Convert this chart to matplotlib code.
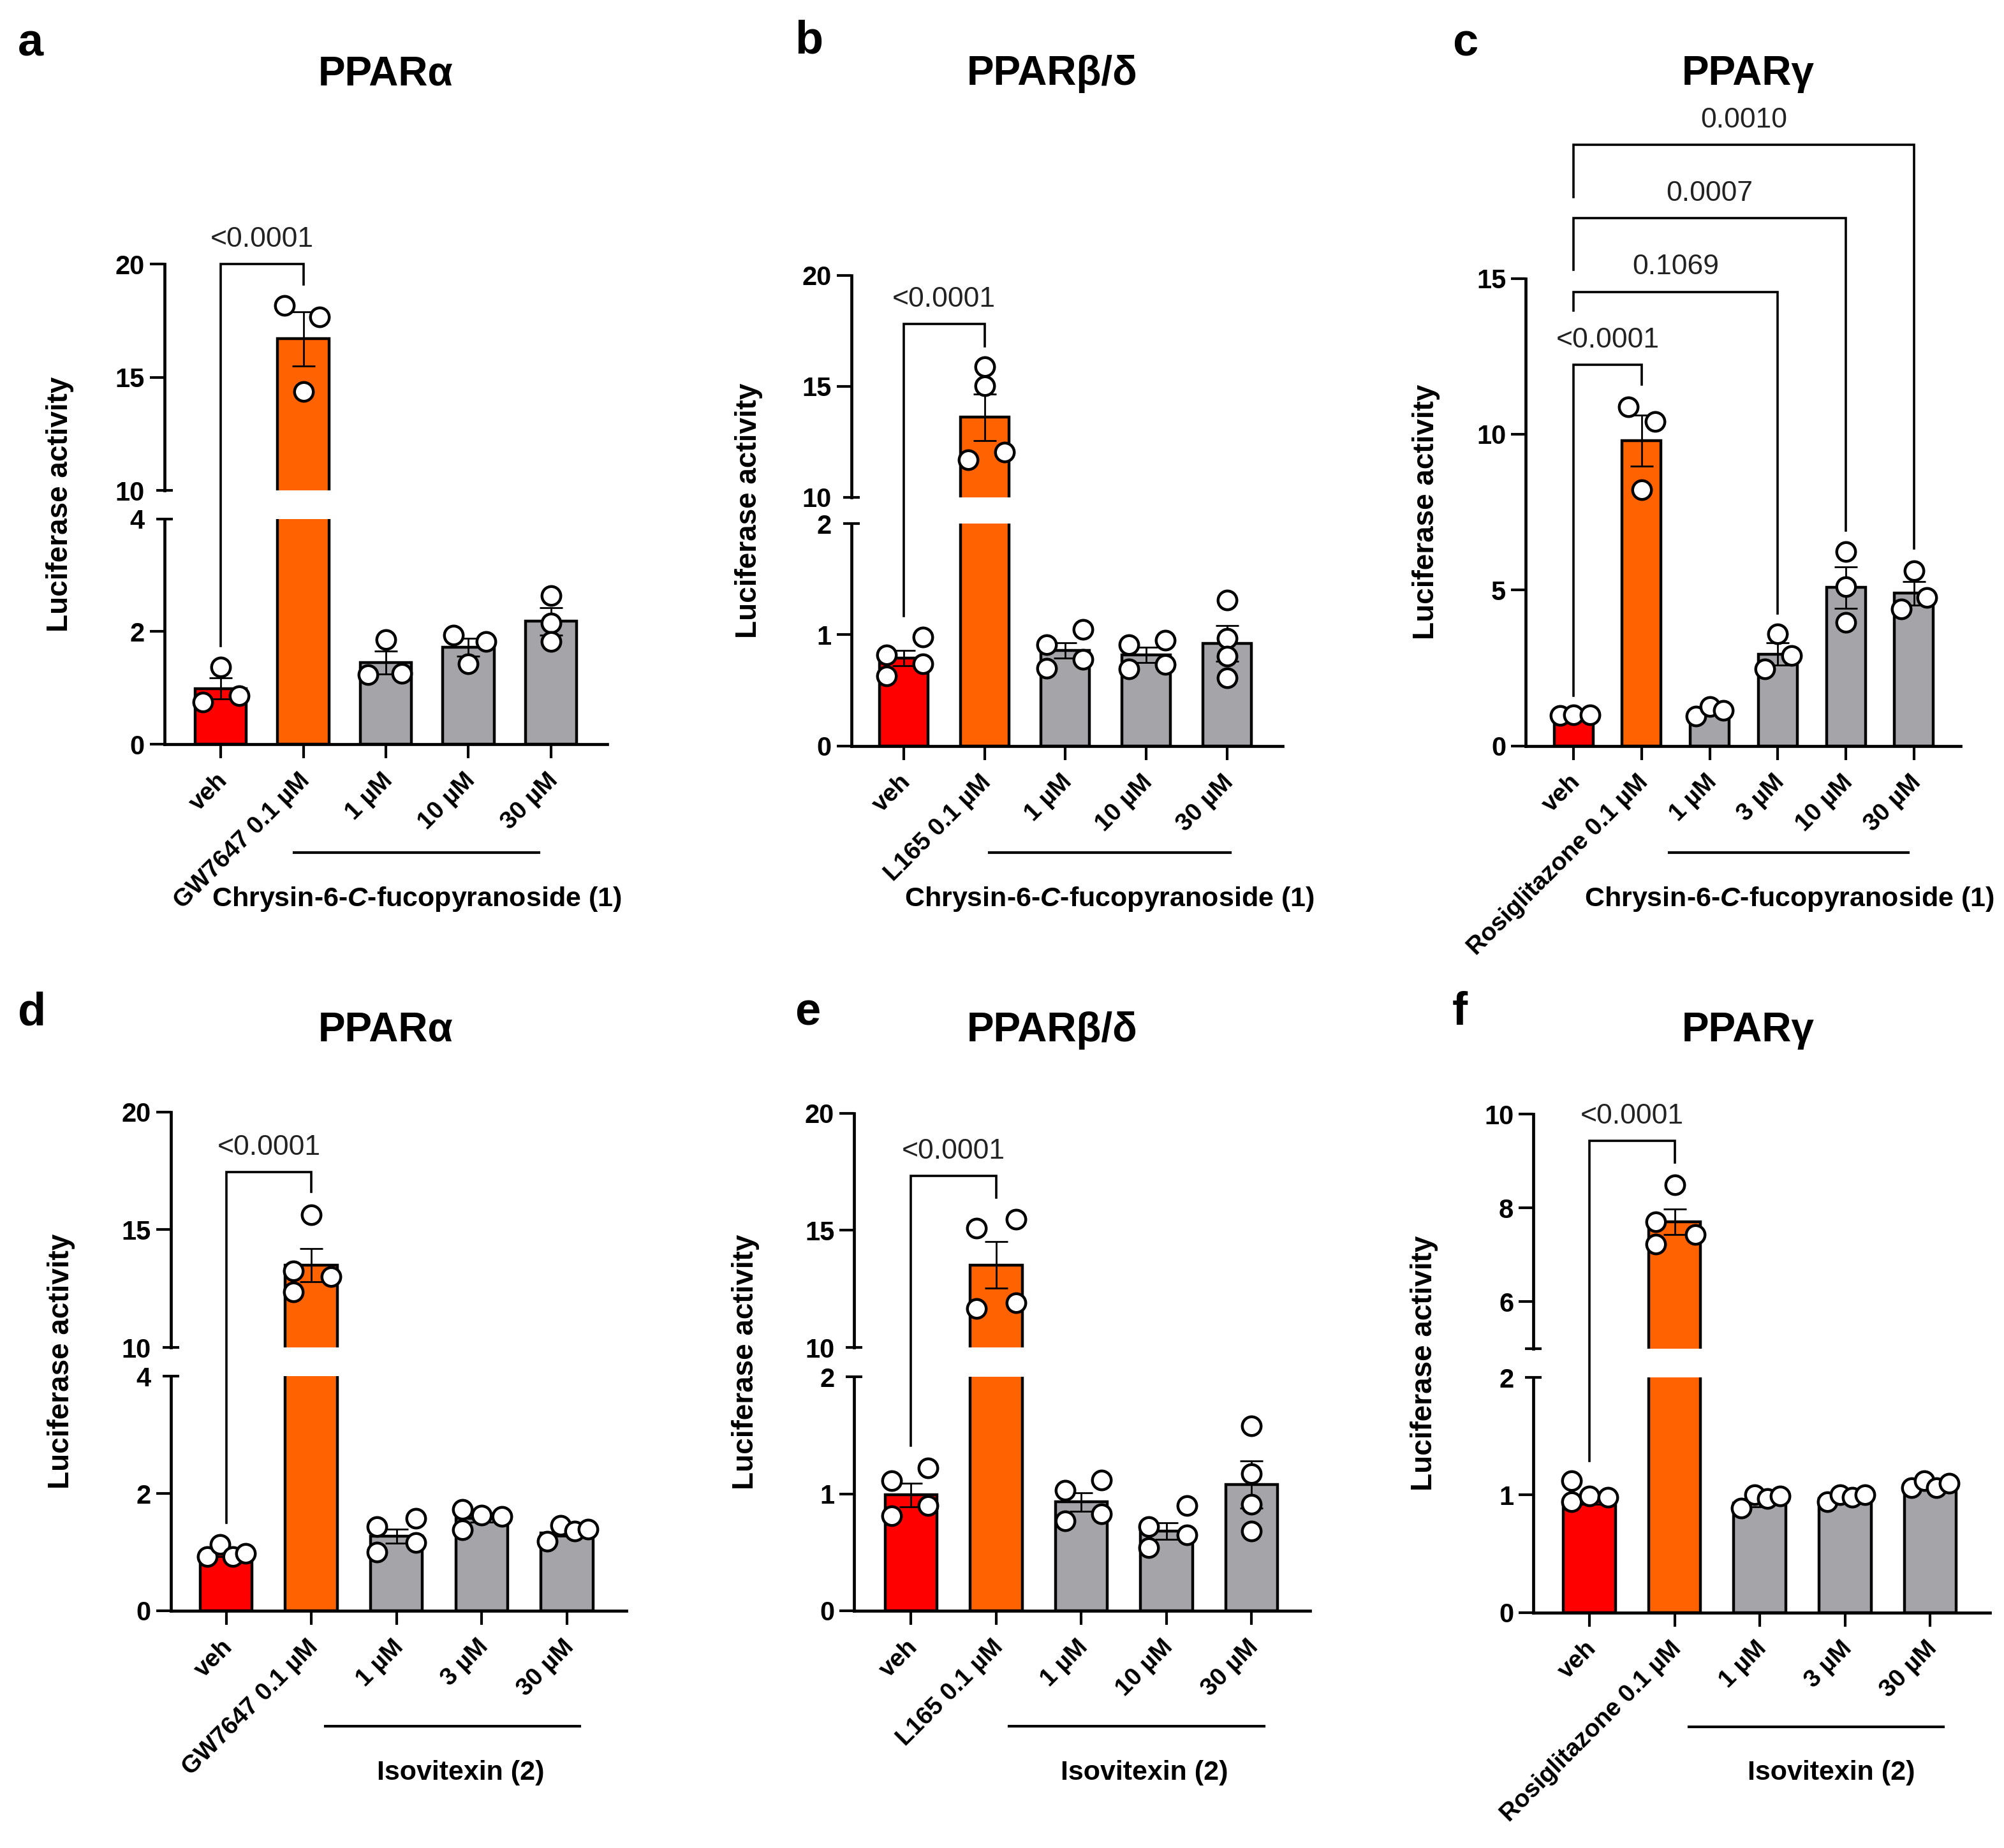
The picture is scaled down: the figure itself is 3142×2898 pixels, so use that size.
import numpy as np
import matplotlib
matplotlib.use('Agg')
import matplotlib.pyplot as plt
import matplotlib.transforms as mtransforms
from matplotlib.lines import Line2D

plt.rcParams['font.family'] = ['Liberation Sans', 'DejaVu Sans']
plt.rcParams['font.weight'] = 'bold'
plt.rcParams['mathtext.fontset'] = 'custom'
plt.rcParams['mathtext.rm'] = 'Liberation Sans:bold'
plt.rcParams['mathtext.it'] = 'Liberation Sans:italic:bold'
plt.rcParams['mathtext.bf'] = 'Liberation Sans:bold'

W, H, DPI = 3142, 2898, 200
RED, ORANGE, GRAY = '#FF0000', '#FF6200', '#A4A4A9'

# ---------------- data ----------------
a_labels = ['veh', 'GW7647 0.1 µM', '1 µM', '10 µM', '30 µM']
a_means = [0.99, 16.7, 1.45, 1.72, 2.18]
a_sem = [0.19, 1.2, 0.2, 0.16, 0.24]
a_points = [[0.75, 0.86, 1.37], [18.18, 17.66, 14.38], [1.86, 1.23, 1.26],
            [1.94, 1.43, 1.82], [2.64, 2.15, 1.82]]
a_jitter = [[-0.22, 0.22, 0], [-0.23, 0.2, 0], [0, -0.22, 0.19], [-0.18, 0, 0.21], [0, 0, 0]]
a_brackets = [(0, 1, 20.0, 1.74, 19.1, '<0.0001')]

b_labels = ['veh', 'L165 0.1 µM', '1 µM', '10 µM', '30 µM']
b_means = [0.79, 13.6, 0.86, 0.82, 0.92]
b_sem = [0.07, 1.05, 0.07, 0.07, 0.16]
b_points = [[0.82, 0.63, 0.98, 0.74], [15.88, 15.03, 11.68, 12.02], [0.91, 0.70, 1.05, 0.78],
            [0.91, 0.69, 0.95, 0.73], [1.31, 0.97, 0.81, 0.61]]
b_jitter = [[-0.21, -0.21, 0.24, 0.24], [0, 0, -0.2, 0.25], [-0.23, -0.23, 0.22, 0.22],
            [-0.21, -0.21, 0.24, 0.24], [0, 0, 0, 0]]
b_brackets = [(0, 1, 17.8, 1.17, 16.8, '<0.0001')]

c_labels = ['veh', 'Rosiglitazone 0.1 µM', '1 µM', '3 µM', '10 µM', '30 µM']
c_means = [0.99, 9.8, 1.12, 2.95, 5.08, 4.9]
c_sem = [0.03, 0.82, 0.08, 0.35, 0.66, 0.38]
c_points = [[0.97, 1.0, 0.99], [10.87, 10.4, 8.22], [0.95, 1.27, 1.13],
            [3.59, 2.46, 2.89], [6.24, 5.1, 3.97], [5.61, 4.39, 4.76]]
c_jitter = [[-0.2, 0, 0.24], [-0.2, 0.2, 0], [-0.2, 0, 0.2], [0, -0.19, 0.2], [0, 0, 0], [0, -0.19, 0.19]]
c_brackets = [(0, 1, 12.23, 1.61, 11.6, '<0.0001'),
              (0, 3, 14.57, 13.96, 4.25, '0.1069'),
              (0, 4, 16.93, 15.27, 6.9, '0.0007'),
              (0, 5, 19.29, 17.6, 6.34, '0.0010')]

d_labels = ['veh', 'GW7647 0.1 µM', '1 µM', '3 µM', '30 µM']
d_means = [0.97, 13.5, 1.27, 1.58, 1.33]
d_sem = [0.05, 0.7, 0.12, 0.07, 0.06]
d_points = [[0.92, 1.13, 0.92, 0.98], [15.63, 13.25, 13.0, 12.35], [1.43, 1.58, 1.16, 1.0],
            [1.73, 1.38, 1.63, 1.61], [1.18, 1.46, 1.36, 1.39]]
d_jitter = [[-0.22, -0.07, 0.08, 0.23], [0, -0.21, 0.23, -0.21], [-0.23, 0.23, 0.23, -0.23],
            [-0.23, -0.23, 0, 0.24], [-0.23, -0.07, 0.09, 0.25]]
d_brackets = [(0, 1, 17.45, 1.5, 16.6, '<0.0001')]

e_labels = ['veh', 'L165 0.1 µM', '1 µM', '10 µM', '30 µM']
e_means = [0.99, 13.52, 0.93, 0.68, 1.08]
e_sem = [0.1, 1.0, 0.08, 0.07, 0.2]
e_points = [[1.11, 0.81, 1.22, 0.90], [15.1, 11.66, 15.48, 11.91], [1.03, 0.77, 1.12, 0.83],
            [0.72, 0.54, 0.90, 0.65], [1.58, 1.17, 0.91, 0.68]]
e_jitter = [[-0.23, -0.23, 0.2, 0.2], [-0.23, -0.23, 0.23, 0.23], [-0.19, -0.19, 0.24, 0.24],
            [-0.21, -0.21, 0.24, 0.24], [0, 0, 0, 0]]
e_brackets = [(0, 1, 17.33, 1.41, 16.4, '<0.0001')]

f_labels = ['veh', 'Rosiglitazone 0.1 µM', '1 µM', '3 µM', '30 µM']
f_means = [0.96, 7.71, 0.93, 0.97, 1.07]
f_sem = [0.04, 0.27, 0.03, 0.01, 0.02]
f_points = [[1.12, 0.94, 0.99, 0.98], [8.5, 7.71, 7.43, 7.23], [0.89, 1.0, 0.97, 0.99],
            [0.94, 1.0, 0.98, 1.0], [1.06, 1.12, 1.06, 1.10]]
f_jitter = [[-0.21, -0.21, 0, 0.22], [0, -0.22, 0.24, -0.22], [-0.22, -0.06, 0.09, 0.24],
            [-0.21, -0.06, 0.08, 0.23], [-0.22, -0.07, 0.07, 0.22]]
f_brackets = [(0, 1, 9.43, 1.29, 8.97, '<0.0001')]

group1 = 'Chrysin-6-$\\mathit{C}$-fucopyranoside (1)'
group2 = 'Isovitexin (2)'

panels = [
    dict(letter='a', title='PPARα', labels=a_labels, means=a_means, sem=a_sem, pts=a_points,
         jit=a_jitter, br=a_brackets, group=group1,
         low=(0, 4), low_ticks=[0, 2], up=(10, 20), up_ticks=[15, 20], brk=(['4'], ['10'])),
    dict(letter='b', title='PPARβ/δ', labels=b_labels, means=b_means, sem=b_sem, pts=b_points,
         jit=b_jitter, br=b_brackets, group=group1,
         low=(0, 2), low_ticks=[0, 1], up=(10, 20), up_ticks=[15, 20], brk=(['2'], ['10'])),
    dict(letter='c', title='PPARγ', labels=c_labels, means=c_means, sem=c_sem, pts=c_points,
         jit=c_jitter, br=c_brackets, group=group1,
         low=(0, 15), low_ticks=[0, 5, 10, 15], up=None),
    dict(letter='d', title='PPARα', labels=d_labels, means=d_means, sem=d_sem, pts=d_points,
         jit=d_jitter, br=d_brackets, group=group2,
         low=(0, 4), low_ticks=[0, 2], up=(10, 20), up_ticks=[15, 20], brk=(['4'], ['10'])),
    dict(letter='e', title='PPARβ/δ', labels=e_labels, means=e_means, sem=e_sem, pts=e_points,
         jit=e_jitter, br=e_brackets, group=group2,
         low=(0, 2), low_ticks=[0, 1], up=(10, 20), up_ticks=[15, 20], brk=(['2'], ['10'])),
    dict(letter='f', title='PPARγ', labels=f_labels, means=f_means, sem=f_sem, pts=f_points,
         jit=f_jitter, br=f_brackets, group=group2,
         low=(0, 2), low_ticks=[0, 1], up=(5, 10), up_ticks=[6, 8, 10], brk=(['2'], [''])),
]

# layout in pixels of the final image (x from left, y from top)
layout = {
    'a': dict(x=(257.8, 952.2), xlim=(-0.683, 4.683), bw=0.62, lo=(1167, 813.7), up=(769.3, 414.3),
              letter=(48, 69), title=(605, 116), ylab=93.7, line=(460.7, 845, 1337), gtxt=(653, 1410)),
    'b': dict(x=(1334.6, 2010.9), xlim=(-0.65, 4.69), bw=0.6, lo=(1169.7, 821.1), up=(779.5, 431.8),
              letter=(1268, 65), title=(1650, 116), ylab=1174, line=(1550.9, 1928.5, 1337), gtxt=(1739.7, 1410)),
    'c': dict(x=(2392.4, 3073.5), xlim=(-0.70, 5.68), bw=0.57, lo=(1169.7, 436.5), up=None,
              letter=(2297, 69), title=(2741, 116), ylab=2236, line=(2617, 2991.8, 1337), gtxt=(2805, 1410)),
    'd': dict(x=(267.8, 982.3), xlim=(-0.65, 4.70), bw=0.61, lo=(2525.9, 2158.3), up=(2113.1, 1743.7),
              letter=(50, 1588), title=(605, 1616), ylab=95.8, line=(510.2, 909.3, 2707), gtxt=(722.5, 2780)),
    'e': dict(x=(1339.3, 2054.4), xlim=(-0.667, 4.69), bw=0.61, lo=(2525.9, 2159.2), up=(2113.1, 1745.5),
              letter=(1266, 1588), title=(1650, 1616), ylab=1169, line=(1582.3, 1982, 2707), gtxt=(1794.6, 2780)),
    'f': dict(x=(2404.3, 3120), xlim=(-0.656, 4.70), bw=0.61, lo=(2528.6, 2160.2), up=(2114.9, 1747.4),
              letter=(2289, 1588), title=(2741, 1616), ylab=2233, line=(2648.2, 3047, 2708), gtxt=(2871.5, 2780)),
}

fig = plt.figure(figsize=(W / DPI, H / DPI), dpi=DPI)
label_shift = mtransforms.ScaledTranslation(4.3 / 72, 0, fig.dpi_scale_trans)


def fx(px):
    return px / W


def fy(py):
    return 1 - py / H


def rect(l, r, bottom, top):
    return [fx(l), fy(bottom), fx(r) - fx(l), fy(top) - fy(bottom)]


def draw_marks(ax, p, bw):
    n = len(p['labels'])
    x = np.arange(n)
    colors = [RED, ORANGE] + [GRAY] * (n - 2)
    ax.bar(x, p['means'], width=bw, color=colors, edgecolor='black', linewidth=1.6, zorder=2)
    ax.errorbar(x, p['means'], yerr=p['sem'], fmt='none', ecolor='black', elinewidth=1.0,
                capsize=6.5, capthick=1.0, zorder=3)
    for i in range(n):
        ax.plot(i + np.array(p['jit'][i]), p['pts'][i], 'o', ms=10.6, mfc='white', mec='black',
                mew=1.6, zorder=4, linestyle='none')


def style_y(ax):
    ax.spines['top'].set_visible(False)
    ax.spines['right'].set_visible(False)
    ax.spines['left'].set_linewidth(1.7)
    ax.spines['bottom'].set_linewidth(1.7)
    ax.tick_params(axis='y', which='major', length=8.2, width=1.5, pad=3, labelsize=15)
    ax.tick_params(axis='y', which='minor', length=0, pad=11.2, labelsize=15)


def break_cap(ax, y):
    tr = mtransforms.blended_transform_factory(ax.transAxes, ax.transData)
    ax.plot([0], [y], marker='_', ms=9.6, mew=1.5, color='black', transform=tr, clip_on=False)


for p in panels:
    lay = layout[p['letter']]
    l, r = lay['x']
    n = len(p['labels'])
    ax_lo = fig.add_axes(rect(l, r, *lay['lo']))
    draw_marks(ax_lo, p, lay['bw'])
    ax_lo.set_xlim(*lay['xlim'])
    ax_lo.set_ylim(*p['low'])
    style_y(ax_lo)
    ax_lo.tick_params(axis='x', length=8, width=1.5, pad=13, labelsize=14)
    ax_lo.set_xticks(np.arange(n))
    ax_lo.set_xticklabels(p['labels'], rotation=45, ha='right', va='baseline', rotation_mode='anchor')
    for lbl in ax_lo.get_xticklabels():
        lbl.set_transform(lbl.get_transform() + label_shift)

    if p['up'] is not None:
        ax_lo.set_yticks(p['low_ticks'])
        ax_lo.set_yticks([p['low'][1]], labels=p['brk'][0], minor=True)
        break_cap(ax_lo, p['low'][1])
        ax_up = fig.add_axes(rect(l, r, *lay['up']))
        draw_marks(ax_up, p, lay['bw'])
        ax_up.set_xlim(*lay['xlim'])
        ax_up.set_ylim(*p['up'])
        style_y(ax_up)
        ax_up.spines['bottom'].set_visible(False)
        ax_up.set_xticks([])
        ax_up.set_yticks(p['up_ticks'])
        ax_up.set_yticks([p['up'][0]], labels=p['brk'][1], minor=True)
        break_cap(ax_up, p['up'][0])
        lo_top = p['low'][1]
    else:
        ax_lo.set_yticks(p['low_ticks'])
        ax_up = ax_lo
        lo_top = np.inf

    def to_fig(xv, yv):
        ax = ax_lo if yv <= lo_top else ax_up
        disp = ax.transData.transform((xv, yv))
        return fig.transFigure.inverted().transform(disp)

    # significance brackets
    for x1, x2, yl, ya, yb, txt in p['br']:
        pts = [to_fig(x1, ya), to_fig(x1, yl), to_fig(x2, yl), to_fig(x2, yb)]
        xs = [q[0] for q in pts]
        ys = [q[1] for q in pts]
        fig.add_artist(Line2D(xs, ys, transform=fig.transFigure, color='black', lw=1.3,
                              solid_joinstyle='miter'))
        line_ax = ax_lo if yl <= lo_top else ax_up
        line_ax.annotate(txt, xy=((x1 + x2) / 2, yl), xycoords='data', xytext=(0, 6.5),
                         textcoords='offset points', ha='center', va='bottom', fontsize=16,
                         fontweight='normal', color='#222222', annotation_clip=False)

    # titles, letters, axis label, group label
    top_px = lay['up'][1] if lay['up'] is not None else lay['lo'][1]
    fig.text(fx(lay['ylab']), fy((top_px + lay['lo'][0]) / 2), 'Luciferase activity',
             rotation=90, ha='center', va='center', fontsize=16.5)
    fig.text(fx(lay['title'][0]), fy(lay['title'][1]), p['title'], ha='center', va='center', fontsize=23)
    fig.text(fx(lay['letter'][0]), fy(lay['letter'][1]), p['letter'], ha='center', va='center', fontsize=26)
    gl = lay['line']
    fig.add_artist(Line2D([fx(gl[0]), fx(gl[1])], [fy(gl[2]), fy(gl[2])], transform=fig.transFigure,
                          color='black', lw=1.5))
    fig.text(fx(lay['gtxt'][0]), fy(lay['gtxt'][1]), p['group'], ha='center', va='center', fontsize=15.5)

fig.savefig('out.png', dpi=DPI, facecolor='white')
